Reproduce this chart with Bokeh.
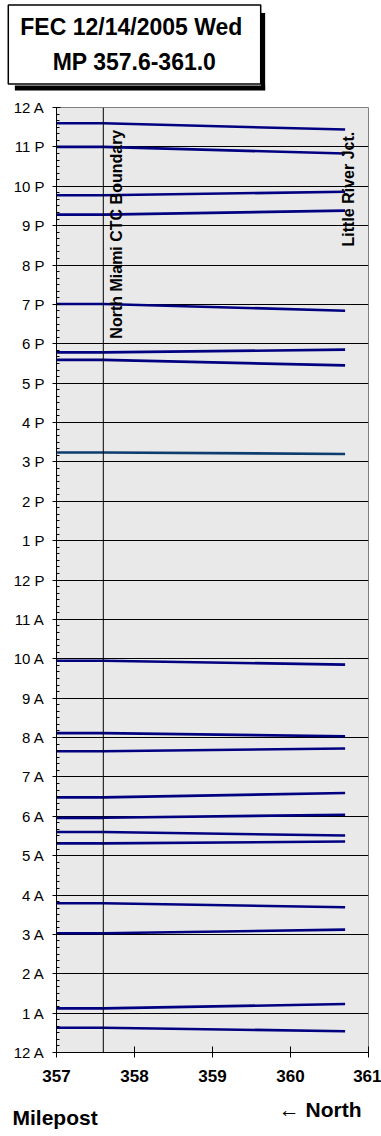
import math
from bokeh.plotting import figure
from bokeh.models import ColumnDataSource, FixedTicker, Span, Label
from bokeh.embed import file_html
from bokeh.resources import INLINE

# ---------------- data ----------------
hour_ticks = list(range(0, 25))
y_tick_labels = ["12 A", "1 A", "2 A", "3 A", "4 A", "5 A", "6 A", "7 A", "8 A", "9 A",
                 "10 A", "11 A", "12 P", "1 P", "2 P", "3 P", "4 P", "5 P", "6 P", "7 P",
                 "8 P", "9 P", "10 P", "11 P", "12 A"]
x_ticks = [357, 358, 359, 360, 361]
x_tick_labels = ["357", "358", "359", "360", "361"]

west_edge_mp = 357.0
boundary_mp = 357.6        # North Miami CTC Boundary
little_river_mp = 360.7    # Little River Jct.

# train times (hours after midnight) at the CTC boundary and at Little River Jct.
t_boundary = [0.63, 1.12, 3.03, 3.79, 5.31, 5.60, 5.96, 6.48, 7.65, 8.11, 9.95,
              15.24, 17.59, 17.78, 19.01, 21.28, 21.77, 23.00, 23.60]
t_little_river = [0.54, 1.23, 3.12, 3.69, 5.36, 5.51, 6.04, 6.59, 7.72, 8.03, 9.85,
                  15.20, 17.45, 17.85, 18.84, 21.38, 21.86, 22.83, 23.44]
train_colors = ["#000080"] * 11 + ["#0d3d6e"] + ["#000080"] * 7

title_text = "FEC 12/14/2005  Wed\nMP 357.6-361.0"

FONT = "Liberation Sans"
PX_PER_MILE = 78.0
PX_PER_HOUR = 39.375

# ---------------- figure ----------------
p = figure(width=381, height=1136,
           min_border_left=56, min_border_right=13, min_border_top=107, min_border_bottom=84,
           x_range=(357, 361), y_range=(0, 24),
           output_backend="svg", toolbar_location=None,
           background_fill_color="#e9e9e9", border_fill_color="white")
p.outline_line_color = "#808080"
p.outline_line_width = 1

# axes
p.yaxis.ticker = FixedTicker(ticks=hour_ticks,
                             minor_ticks=[h / 6 for h in range(0, 145)])
p.yaxis.major_label_overrides = {h: lab for h, lab in zip(hour_ticks, y_tick_labels)}
p.yaxis.major_tick_in = 4
p.yaxis.major_tick_out = 4
p.yaxis.minor_tick_in = 3
p.yaxis.minor_tick_out = 0
p.yaxis.major_label_standoff = 8
p.yaxis.major_label_text_font = FONT
p.yaxis.major_label_text_font_size = "15px"
p.yaxis.major_label_text_color = "black"
p.yaxis.axis_line_color = "black"
p.yaxis.major_tick_line_color = "black"
p.yaxis.minor_tick_line_color = "black"

p.xaxis.ticker = FixedTicker(ticks=x_ticks)
p.xaxis.major_label_overrides = {t: lab for t, lab in zip(x_ticks, x_tick_labels)}
p.xaxis.major_tick_in = 6
p.xaxis.major_tick_out = 5
p.xaxis.minor_tick_line_color = None
p.xaxis.major_label_standoff = 12
p.xaxis.major_label_text_font = FONT
p.xaxis.major_label_text_font_size = "17px"
p.xaxis.major_label_text_font_style = "bold"
p.xaxis.major_label_text_color = "black"
p.xaxis.axis_line_color = "black"
p.xaxis.major_tick_line_color = "black"

# grid
p.xgrid.grid_line_color = None
p.ygrid.ticker = FixedTicker(ticks=hour_ticks[1:-1])
p.ygrid.grid_line_color = "black"
p.ygrid.grid_line_width = 1

# boundary line
p.add_layout(Span(location=boundary_mp, dimension="height", line_color="black", line_width=1))

# train lines
src = ColumnDataSource(dict(
    xs=[[west_edge_mp, boundary_mp, little_river_mp] for _ in t_boundary],
    ys=[[a, a, b] for a, b in zip(t_boundary, t_little_river)],
    color=train_colors,
))
p.multi_line(xs="xs", ys="ys", line_color="color", line_width=2.6, source=src)

# rotated station labels
p.add_layout(Label(x=357.654, y=18.13, text="North Miami CTC Boundary", angle=math.pi / 2,
                   text_align="left", text_baseline="top", text_font=FONT,
                   text_font_size="16px", text_font_style="bold", text_color="black"))
p.add_layout(Label(x=360.641, y=20.47, text="Little River Jct.", angle=math.pi / 2,
                   text_align="left", text_baseline="top", text_font=FONT,
                   text_font_size="16px", text_font_style="bold", text_color="black"))

# title box drop shadow: a thin bottom strip (above panel) and a thin right strip (right panel)
p.add_layout(Label(x=357 + (139.5 - 56) / PX_PER_MILE, y=(1052 - 87.5) / PX_PER_HOUR, text=" ",
                   text_align="center", text_baseline="middle", text_font_size="1px",
                   padding=dict(x=125, y=2), background_fill_color="black",
                   background_fill_alpha=1, border_line_color=None), "above")
p.add_layout(Label(x=357 + (262.5 - 56) / PX_PER_MILE, y=(1052 - 51) / PX_PER_HOUR, text=" ",
                   text_align="center", text_baseline="middle", text_font_size="1px",
                   padding=dict(x=2, y=38), background_fill_color="black",
                   background_fill_alpha=1, border_line_color=None), "right")

# title box (side panel so it is not clipped to the frame)
p.add_layout(Label(x=358.0, y=25.60, text=title_text, text_color="black",
                   text_align="center", text_baseline="middle", text_font=FONT,
                   text_font_size="23px", text_font_style="bold", text_line_height=1.35,
                   padding=dict(x=12, y=9),
                   background_fill_color="white", background_fill_alpha=1,
                   border_line_color="black", border_line_width=1.5), "above")

# bottom labels
p.add_layout(Label(x=356.436, y=-1.651, text="Milepost", text_align="left",
                   text_baseline="middle", text_font=FONT, text_font_size="21px",
                   text_font_style="bold", text_color="black"), "below")
p.add_layout(Label(x=360.91, y=-1.448, text="\u2190 North", text_align="right",
                   text_baseline="middle", text_font=FONT, text_font_size="21px",
                   text_font_style="bold", text_color="black"), "below")

open("out.html", "w").write(file_html(p, INLINE))
